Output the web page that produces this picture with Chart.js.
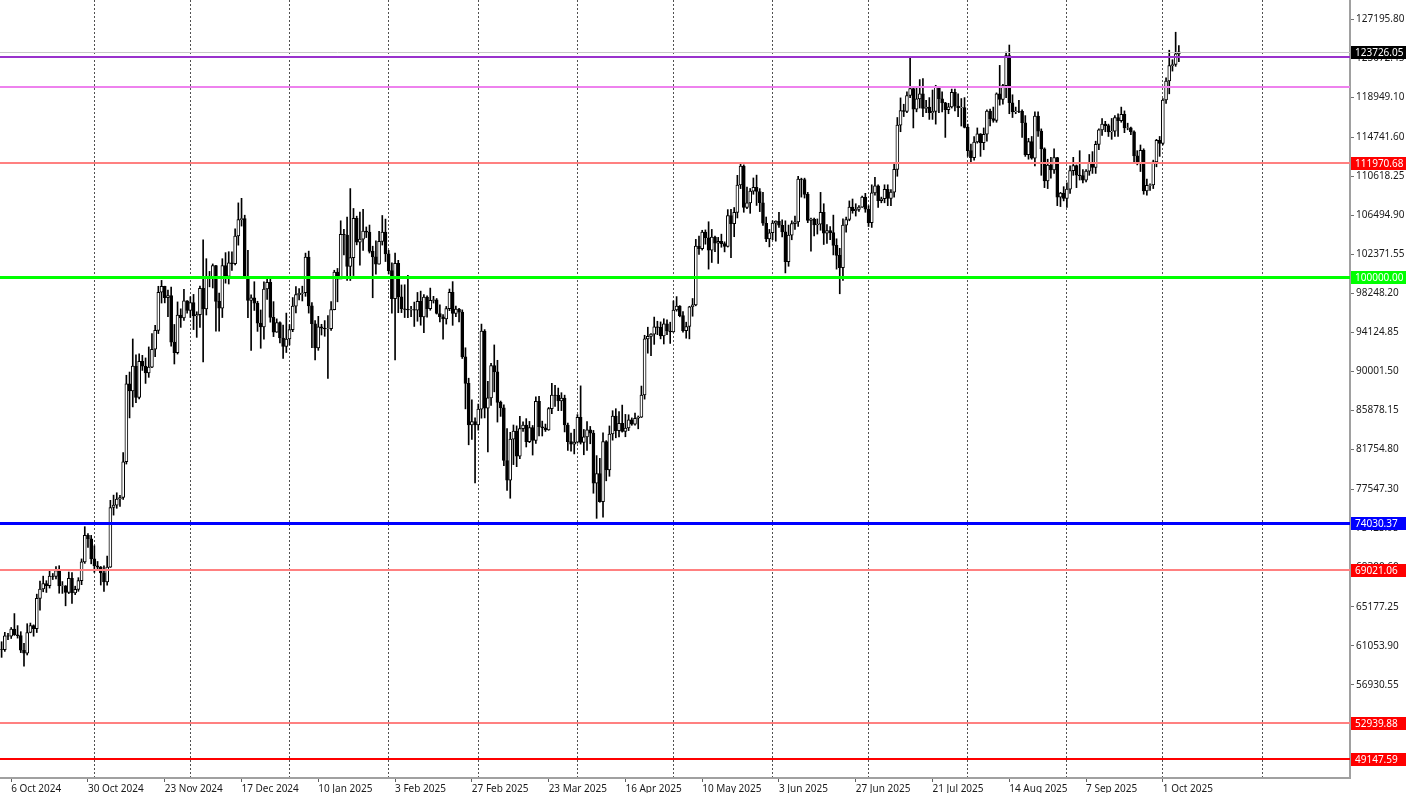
<!DOCTYPE html>
<html>
<head>
<meta charset="utf-8">
<title>BTCUSD Daily</title>
<script src="https://cdn.jsdelivr.net/npm/chart.js@4.4.1/dist/chart.umd.min.js"></script>
<style>
  html, body { margin: 0; padding: 0; background: #ffffff; }
  #wrap { width: 1406px; height: 793px; }
</style>
</head>
<body>
<div id="wrap"><canvas id="chart" width="1406" height="793"></canvas></div>
<script>
// daily candles, 3 Oct 2024 .. 6 Oct 2025, right side left empty like the terminal shift
var firstDay = Date.UTC(2024, 9, 3);
var slotCount = 422;

var opens = [
  60650,60630,62090,62060,62820,62220,62130,60580,60270,62450,63190,62850,66050,67040,67610,67400,68400,68360,69000,67370,67380,66680,68160,66640,67010,67930,69900,72720,72340,
  70220,69480,69350,68740,67800,69360,75640,75900,76540,76700,80470,88700,87960,90580,87250,91070,90560,89850,90460,92340,94340,98360,98980,97780,98010,93100,91990,95960,95650,97460,
  96450,97280,95870,96000,98770,96590,99870,99920,101170,97400,96680,101170,100040,101460,101370,104300,106030,106140,100040,97490,97760,97220,95100,94690,98700,99400,95700,94160,95160,93530,92640,
  93430,94420,96890,98110,98240,98310,102080,96920,95040,92480,94700,94570,94490,94520,96530,100500,99750,104470,104400,101090,102010,106150,103650,103960,104820,104710,102680,102090,101330,103730,104720,
  102410,100650,97690,101400,97870,96620,96550,96500,96530,96480,97400,95750,97840,96620,97510,97570,96120,95770,95540,96640,98340,96130,96580,96270,91550,88740,84350,84700,
  84370,86030,94250,86120,87220,90620,89960,86740,86150,80600,78530,82860,83720,81070,83970,84340,82580,84080,82720,86850,84170,84040,83830,86080,87500,87470,86900,87180,84350,82600,82340,
  82550,85160,82500,83100,83840,83500,78210,79230,76270,82600,79600,83400,85290,83740,84540,83670,84030,84900,84450,85060,85170,87520,93440,93700,93940,94720,94650,93750,95040,94270,
  94170,96490,96910,95890,94310,94750,96830,97030,103240,102970,104700,104110,102810,104170,103540,103740,103490,103190,106450,105600,106790,109680,111670,107300,107790,109030,109440,108990,107800,105640,103990,
  104640,105650,105880,105430,104730,101580,104390,105600,105790,110290,110260,108690,105930,106090,105470,105550,106790,104600,104880,104660,103300,102250,100960,105440,106040,107340,106970,107100,107350,108390,
  107140,105700,108850,109600,108020,108230,109230,108260,108920,111330,115990,117520,117440,119120,119840,117680,118760,119290,117750,117900,117300,117440,120000,118760,118350,117620,117920,119450,118000,117830,117840,
  115760,113300,112550,114220,115070,114140,115030,117490,116690,116500,119300,118700,120170,123340,118360,117400,117490,117450,116250,112870,114270,112500,116940,115370,113490,110110,111770,111260,112580,108400,108820,
  108250,109250,111200,111720,110720,110660,110190,111140,112070,111530,113960,115500,116100,115950,115270,115350,116790,116470,117140,115690,115720,115300,112750,112010,113330,109050,109640,109690,112120,114400,
  114060,118650,120650,122270,122390,123510
];
var highs = [
  61480,62470,62370,62980,64450,63180,62540,61310,63380,63450,63260,66500,67880,68400,67920,68970,68680,69400,69500,67830,67400,68830,68770,67340,68240,70220,73620,72900,72700,
  71600,69950,69420,69480,70530,76400,76950,77200,76930,81450,89600,89940,93430,91760,91850,91700,91430,92590,94000,94880,98990,99610,99000,98580,98900,94960,97340,96610,98670,97480,
  97880,98130,96300,99000,103900,101900,100560,101350,101200,98270,101900,102540,102640,102620,105050,107790,108270,106490,102780,98100,99470,97410,96490,99460,99960,99900,97370,95550,95230,94900,96160,
  94950,97800,98960,98750,99000,102490,102700,97260,95370,95820,94980,95370,95890,97370,100680,100870,105900,104990,106300,109300,107200,106390,106820,107100,105250,105450,103220,103780,104780,106460,106080,
  102780,101460,102500,101730,99130,99150,100140,96880,97320,98340,98480,98120,97980,98800,97930,97700,97020,96000,96860,98700,99480,96900,96670,96500,92500,89290,87000,85100,
  86560,95000,94420,88950,90870,92800,91180,86880,86490,83960,83580,84350,84260,85260,84680,85020,84730,84300,87330,87370,84760,84450,86200,88760,88530,88250,87760,87500,84560,83500,83900,
  85450,88480,83880,84700,84200,83780,81120,80830,83530,82700,84250,85860,86070,85780,86450,85470,85430,85100,85600,85300,88460,93820,94670,94000,95740,95300,95230,95560,95440,95200,
  97440,97900,96950,96320,95200,96880,97700,103940,104300,104900,104940,105800,104990,104300,104150,104490,103680,107080,107100,107300,110700,111980,111800,109470,109310,110420,110720,109300,108900,106300,104990,
  105900,105900,106800,106000,105900,105450,105900,106400,110600,110400,110400,108900,106200,106200,106100,108900,107700,105500,105300,106500,104000,103000,106100,106300,108000,108200,107700,107500,108500,108800,
  107500,109700,110500,109700,108400,109700,109700,109200,111900,116800,118870,118200,119500,123200,119950,120000,120800,120900,118600,118900,119700,120200,120100,119500,118400,118300,119800,119800,119300,118800,118900,
  116100,114000,114800,115700,115100,115700,117600,117700,117900,119400,122300,120300,123700,124450,119200,117900,118600,117600,117000,114600,114800,117400,117400,115600,113600,112400,112600,113500,112600,108900,109500,
  109900,111700,112600,111800,113300,111300,111300,112900,113200,114300,115600,116700,116400,116100,116700,117000,117200,117900,117500,116200,115800,115400,113300,113900,113500,110300,109800,112300,114500,114800,
  118800,121000,123900,122900,125800,124400
];
var lows = [
  59830,60460,61700,61820,62150,61860,60330,58900,60080,62420,62060,62450,64820,66750,66680,67140,68040,68120,66600,66580,65270,66560,65520,66450,66800,67500,69750,71420,69700,
  68800,69020,67460,66800,67460,69320,74840,75560,75750,76490,80230,85100,86260,86700,87100,90110,88740,89380,90400,91570,94000,97220,97240,95780,92660,90790,91840,94650,95380,96150,
  95700,94420,93600,94660,91000,95960,98930,98810,94250,94260,95690,99320,99230,100660,101240,103330,105340,100100,95670,92230,96440,94230,92450,93420,97590,95200,93680,94130,93000,91380,92000,
  92800,94200,96190,97540,97440,97930,96160,92520,91220,92230,93850,93710,89260,94340,96500,97350,99950,102300,99600,99600,100120,103360,101220,102780,104130,102500,97780,100280,101330,103340,101600,
  100280,96150,91230,96200,96210,95690,95680,95790,94750,95300,94880,94100,95730,96460,97220,96060,95220,93410,95000,96420,94870,95790,95240,91370,86050,82260,82830,78250,
  83810,85070,85100,81500,86420,87850,84660,85260,80050,77460,76620,80170,79950,80800,83660,82030,82490,81180,82400,83200,83190,83670,83790,85540,86320,85860,85870,83620,81680,81580,81300,
  82430,82340,81210,81670,82370,77150,74500,76200,74620,78460,78940,82750,83000,83080,83600,83110,83760,84320,84320,83950,85140,87080,91930,91680,92860,93880,93440,92900,93890,92960,
  94140,96360,95770,94140,93510,93440,95830,96930,102340,102810,103430,100800,101500,102640,101400,103110,102620,103130,102000,104220,106200,109300,106800,107180,106690,108700,107520,106870,105400,103700,103150,
  103900,103750,105200,104200,100400,101100,103900,105000,105300,108400,108300,105700,102700,104300,104500,104900,103400,103500,103900,102300,100800,98200,99600,104700,105900,106700,106400,106900,107300,106800,
  105300,105200,108600,107300,107800,107800,107500,107500,108400,110600,115300,116900,117300,118900,115700,117400,117800,116900,117300,116600,116600,116100,117300,117400,114700,117200,117800,117500,116900,115900,115700,
  112700,112000,112300,114100,112700,113400,114300,115900,116300,116300,118100,118200,118900,117200,116800,117200,117300,114700,112700,112400,112400,111700,114800,110700,109400,109300,110400,110900,107500,107400,108000,
  107300,108800,110700,109400,110200,109900,110000,110700,110900,110900,113400,114900,115300,114800,114500,114800,114800,116300,115200,115500,115000,112000,111800,111100,108700,108600,109100,109300,111600,112700,
  113900,118300,119300,121700,122200,122700
];
var closes = [
  60630,62090,62060,62820,62220,62130,60580,60270,62450,63190,62850,66050,67040,67610,67400,68400,68360,69000,67370,67380,66680,68160,66640,67010,67930,69900,72720,72340,70220,
  69480,69350,68740,67800,69360,75640,75900,76540,76700,80470,88700,87960,90580,87250,91070,90560,89850,90460,92340,94340,98360,98980,97780,98010,93100,91990,95960,95650,97460,96450,
  97280,95870,96000,98770,96590,99870,99920,101170,97400,96680,101170,100040,101460,101370,104300,106030,106140,100040,97490,97760,97220,95100,94690,98700,99400,95700,94160,95160,93530,92640,93430,
  94420,96890,98110,98240,98310,102080,96920,95040,92480,94700,94570,94490,94520,96530,100500,99750,104470,104400,101090,102010,106150,103650,103960,104820,104710,102680,102090,101330,103730,104720,102410,
  100650,97690,101400,97870,96620,96550,96500,96530,96480,97400,95750,97840,96620,97510,97570,96120,95770,95540,96640,98340,96130,96580,96270,91550,88740,84350,84700,84370,
  86030,94250,86120,87220,90620,89960,86740,86150,80600,78530,82860,83720,81070,83970,84340,82580,84080,82720,86850,84170,84040,83830,86080,87500,87470,86900,87180,84350,82600,82340,82550,
  85160,82500,83100,83840,83500,78210,79230,76270,82600,79600,83400,85290,83740,84540,83670,84030,84900,84450,85060,85170,87520,93440,93700,93940,94720,94650,93750,95040,94270,94170,
  96490,96910,95890,94310,94750,96830,97030,103240,102970,104700,104110,102810,104170,103540,103740,103490,103190,106450,105600,106790,109680,111670,107300,107790,109030,109440,108990,107800,105640,103990,104640,
  105650,105880,105430,104730,101580,104390,105600,105790,110290,110260,108690,105930,106090,105470,105550,106790,104600,104880,104660,103300,102250,100960,105440,106040,107340,106970,107100,107350,108390,107140,
  105700,108850,109600,108020,108230,109230,108260,108920,111330,115990,117520,117440,119120,119840,117680,118760,119290,117750,117900,117300,117440,120000,118760,118350,117620,117920,119450,118000,117830,117840,115760,
  113300,112550,114220,115070,114140,115030,117490,116690,116500,119300,118700,120170,123340,118360,117400,117490,117450,116250,112870,114270,112500,116940,115370,113490,110110,111770,111260,112580,108400,108820,108250,
  109250,111200,111720,110720,110660,110190,111140,112070,111530,113960,115500,116100,115950,115270,115350,116790,116470,117140,115690,115720,115300,112750,112010,113330,109050,109640,109690,112120,114400,114060,
  118650,120650,122270,122390,123510,123726.05
];

var xTickLabels = ['6 Oct 2024', '30 Oct 2024', '23 Nov 2024', '17 Dec 2024', '10 Jan 2025', '3 Feb 2025',
  '27 Feb 2025', '23 Mar 2025', '16 Apr 2025', '10 May 2025', '3 Jun 2025', '27 Jun 2025',
  '21 Jul 2025', '14 Aug 2025', '7 Sep 2025', '1 Oct 2025'];
var yTickValues = [127195.80, 123072.45, 118949.10, 114741.60, 110618.25, 106494.90, 102371.55, 98248.20,
  94124.85, 90001.50, 85878.15, 81754.80, 77547.30, 73423.95, 69300.60, 65177.25, 61053.90, 56930.55,
  52807.20, 48683.85];

// horizontal levels (price line first), styles kept apart
var levelValues = [123726.05, 123200, 120000, 111970.68, 100000, 74030.37, 69021.06, 52939.88, 49147.59];
var levelStyles = [
  { color: '#c8c8c8', width: 1, box: '#000000' },
  { color: '#9932cc', width: 2, box: null },
  { color: '#ee82ee', width: 2, box: null },
  { color: '#ff8080', width: 2, box: '#ff0000' },
  { color: '#00ff00', width: 3, box: '#00ff00' },
  { color: '#0000ff', width: 3, box: '#0000ff' },
  { color: '#ff8080', width: 2, box: '#ff0000' },
  { color: '#ff8080', width: 2, box: '#ff0000' },
  { color: '#ff0000', width: 2, box: '#ff0000' }
];

var yMin = 47098.5;
var yMax = 129200.9;
var axisFont = { family: 'Noto Sans', size: 10 };

var monthNames = ['Jan', 'Feb', 'Mar', 'Apr', 'May', 'Jun', 'Jul', 'Aug', 'Sep', 'Oct', 'Nov', 'Dec'];
var labels = [];
for (var i = 0; i < slotCount; i++) {
  var d = new Date(firstDay + i * 86400000);
  labels.push(d.getUTCDate() + ' ' + monthNames[d.getUTCMonth()] + ' ' + d.getUTCFullYear());
}

var bodies = [], wicks = [], bodyColors = [];
for (var k = 0; k < closes.length; k++) {
  bodies.push([opens[k], closes[k]]);
  wicks.push([lows[k], highs[k]]);
  bodyColors.push(closes[k] >= opens[k] ? '#ffffff' : '#000000');
}

var levelPlugin = {
  id: 'levels',
  afterDatasetsDraw: function(chart) {
    var ctx = chart.ctx, area = chart.chartArea, ys = chart.scales.y;
    levelValues.forEach(function(v, i) {
      var st = levelStyles[i];
      var py = Math.round(ys.getPixelForValue(v)) + (st.width % 2 ? 0.5 : 0);
      ctx.save();
      ctx.strokeStyle = st.color;
      ctx.lineWidth = st.width;
      ctx.beginPath();
      ctx.moveTo(area.left, py);
      ctx.lineTo(area.right, py);
      ctx.stroke();
      ctx.restore();
    });
  },
  afterDraw: function(chart) {
    var ctx = chart.ctx, area = chart.chartArea, ys = chart.scales.y;
    levelValues.forEach(function(v, i) {
      var st = levelStyles[i];
      if (!st.box) return;
      var py = Math.round(ys.getPixelForValue(v));
      ctx.save();
      ctx.fillStyle = st.box;
      ctx.fillRect(area.right + 1, py - 6, chart.width - area.right - 1, 13);
      ctx.fillStyle = '#ffffff';
      ctx.font = '10px "Noto Sans"';
      ctx.textBaseline = 'middle';
      ctx.fillText(v.toFixed(2), area.right + 5, py + 1);
      ctx.restore();
    });
  }
};

new Chart(document.getElementById('chart'), {
  type: 'bar',
  data: {
    labels: labels,
    datasets: [
      {
        data: bodies,
        backgroundColor: bodyColors,
        borderColor: '#000000',
        borderWidth: 1,
        borderSkipped: false,
        barThickness: 3,
        grouped: false
      },
      {
        data: wicks,
        backgroundColor: '#000000',
        borderWidth: 0,
        barThickness: 1,
        grouped: false
      }
    ]
  },
  options: {
    responsive: false,
    animation: false,
    devicePixelRatio: 1,
    layout: { padding: 0 },
    plugins: { legend: { display: false }, tooltip: { enabled: false } },
    scales: {
      x: {
        offset: true,
        grid: {
          offset: false,
          lineWidth: 1,
          tickLength: 4,
          color: function(c) {
            var lab = labels[c.index] || '';
            return lab.indexOf('1 ') === 0 ? '#505050' : 'rgba(0,0,0,0)';
          },
          tickColor: function(c) {
            return xTickLabels.indexOf(labels[c.index]) >= 0 ? '#606060' : 'rgba(0,0,0,0)';
          }
        },
        border: { display: true, color: '#a0a0a0', width: 2, dash: [2, 2] },
        ticks: {
          autoSkip: false,
          maxRotation: 0,
          minRotation: 0,
          align: 'start',
          padding: 1,
          color: '#1a1a1a',
          font: axisFont,
          callback: function(v, i) {
            return xTickLabels.indexOf(labels[i]) >= 0 ? labels[i] : '';
          }
        },
        afterFit: function(s) { s.height = 15; s.paddingLeft = 0; s.paddingRight = 0; }
      },
      y: {
        position: 'right',
        min: yMin,
        max: yMax,
        afterBuildTicks: function(s) {
          s.ticks = yTickValues.map(function(v) { return { value: v }; });
        },
        grid: { drawOnChartArea: false, tickLength: 4, tickColor: '#707070' },
        border: { color: '#a0a0a0', width: 2 },
        ticks: {
          padding: 2,
          color: '#1a1a1a',
          font: axisFont,
          callback: function(v) { return Number(v).toFixed(2); }
        },
        afterFit: function(s) { s.width = 56; s.paddingTop = 0; s.paddingBottom = 0; }
      }
    }
  },
  plugins: [levelPlugin]
});
</script>
</body>
</html>
